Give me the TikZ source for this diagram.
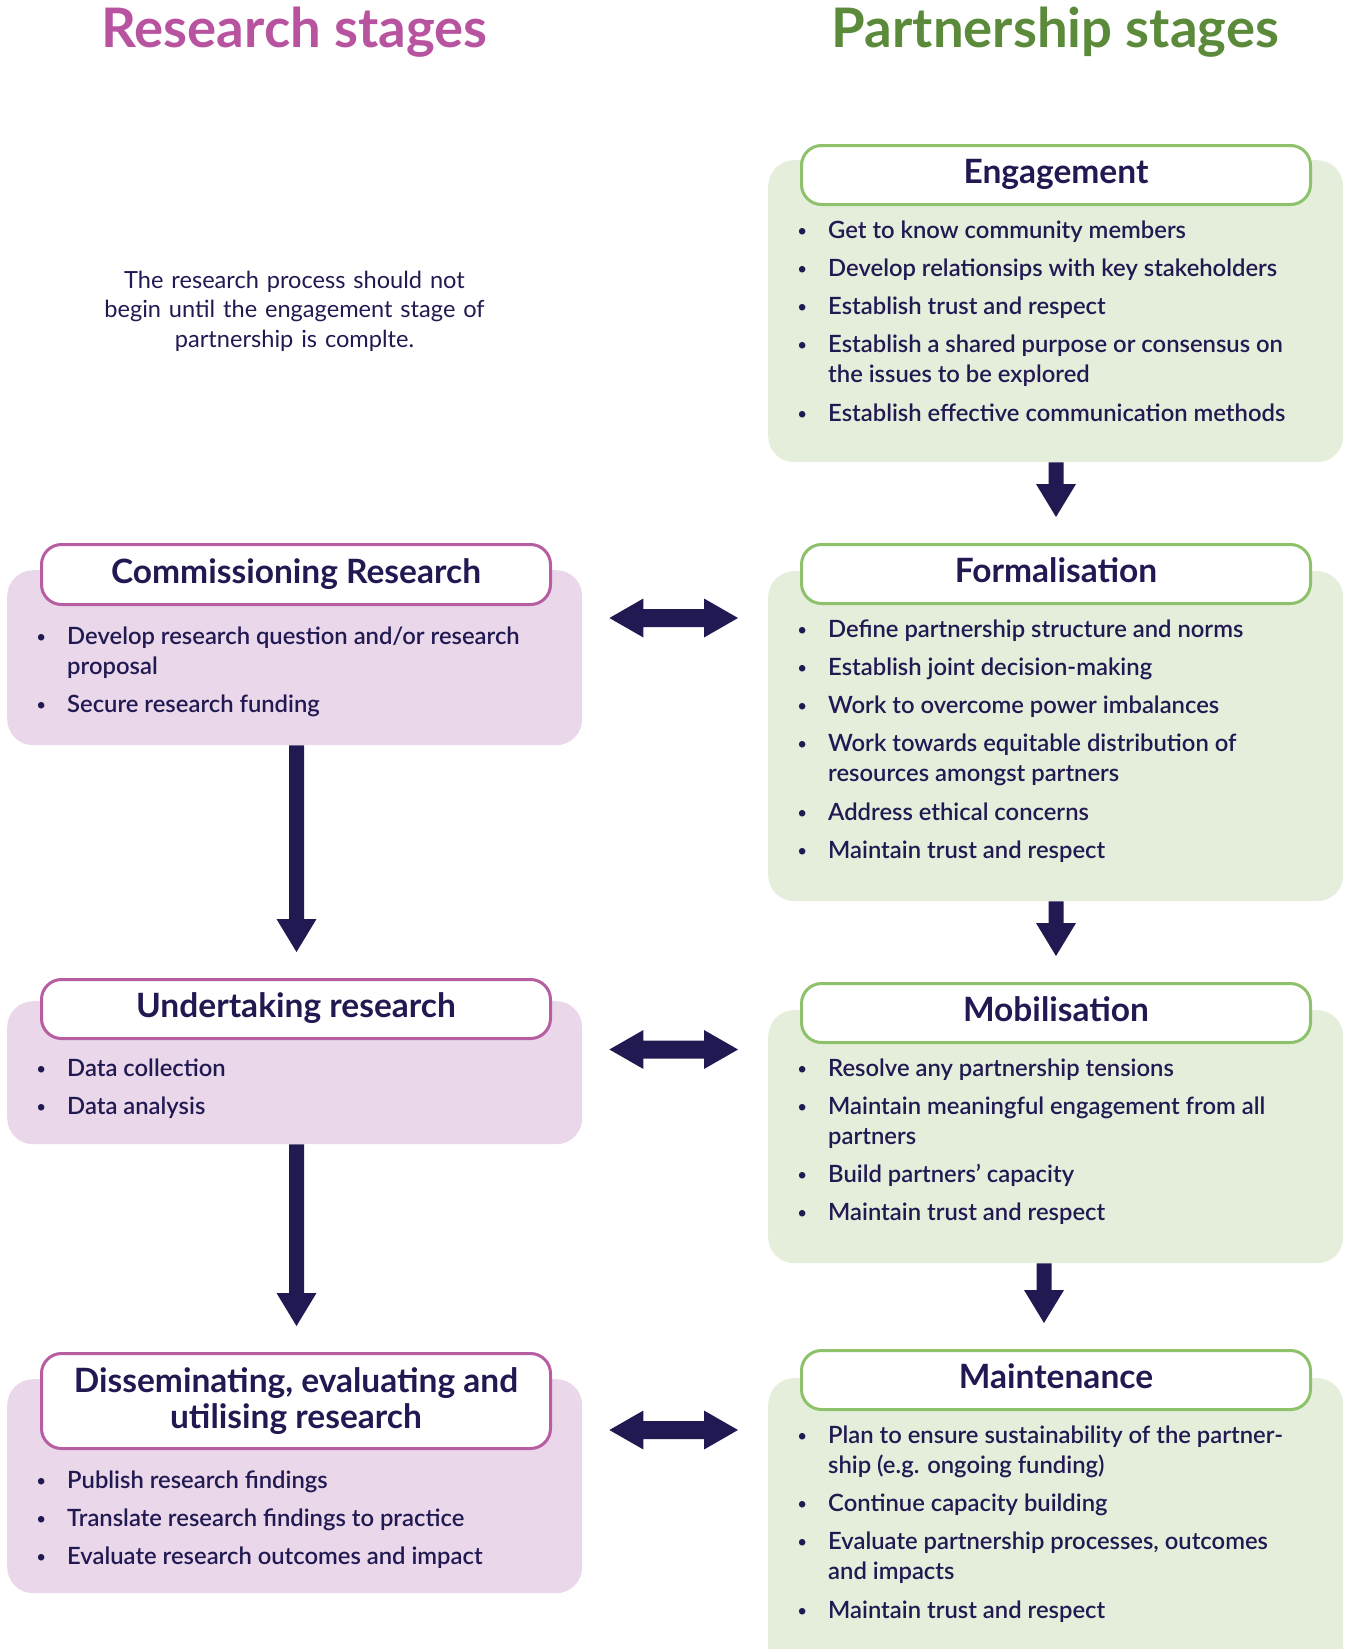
\documentclass[tikz,border=0pt]{standalone}
\usepackage{fontspec}
\usetikzlibrary{calc}
\setmainfont{Lato}
\IfFontExistsTF{Lato Semibold}{\newfontfamily\bodyfont{Lato Semibold}}{\newfontfamily\bodyfont{Lato}}
\definecolor{navy}{HTML}{211A52}
\definecolor{pinkB}{HTML}{B75DA2}
\definecolor{pinkF}{HTML}{EAD7EA}
\definecolor{pinkT}{HTML}{B8539F}
\definecolor{greenB}{HTML}{8DC26A}
\definecolor{greenF}{HTML}{E5EEDB}
\definecolor{greenT}{HTML}{5B8A3B}
\newcommand\bul{\par\hangindent=30pt\hangafter=0\noindent\llap{\makebox[52pt][c]{\raisebox{2pt}{\fontsize{16}{16}\selectfont\textbullet}}}}
\newcommand\bodytext[1]{\parbox[t]{520pt}{\setlength\parskip{8pt}#1\par}}
\newcommand\varrow[3]{%
  \fill[navy] let \p1=(#1.south), \p2=(#2.north) in
    (#3pt-7.5pt,\y1) -- (#3pt-7.5pt,\y2+59pt) -- (#3pt-20pt,\y2+59pt) -- (#3pt,\y2+26pt)
    -- (#3pt+20pt,\y2+59pt) -- (#3pt+7.5pt,\y2+59pt) -- (#3pt+7.5pt,\y1) -- cycle;}
\newcommand\harrow[3]{%
  \fill[navy] let \p1=(#1.east), \p2=(#2.west) in
    (\x1+27pt,-#3pt) -- (\x1+61pt,-#3pt+19.5pt) -- (\x1+61pt,-#3pt+9pt) -- (\x2-64pt,-#3pt+9pt)
    -- (\x2-64pt,-#3pt+19.5pt) -- (\x2-30pt,-#3pt) -- (\x2-64pt,-#3pt-19.5pt) -- (\x2-64pt,-#3pt-9pt)
    -- (\x1+61pt,-#3pt-9pt) -- (\x1+61pt,-#3pt-19.5pt) -- cycle;}
\begin{document}
\begin{tikzpicture}[x=1pt,y=-1pt,
  title/.style={anchor=base, inner sep=0, font=\bfseries\fontsize{54.5}{54.5}\selectfont},
  note/.style={anchor=base, inner sep=0, text width=460pt, align=center, text=navy, font=\fontsize{23.6}{29.5}\selectfont},
  fillbox/.style={rounded corners=26pt, minimum width=575pt, anchor=north west, inner sep=0},
  pinkbox/.style={fillbox, fill=pinkF},
  greenbox/.style={fillbox, fill=greenF},
  headbox/.style={line width=3pt, fill=white, rounded corners=20pt, minimum width=509pt, anchor=north west, inner sep=0, text=navy, align=center, font=\bfseries\fontsize{33.5}{36.6}\selectfont},
  onehead/.style={text height=24pt, text depth=7pt},
  phead/.style={headbox, draw=pinkB},
  ghead/.style={headbox, draw=greenB},
  body/.style={anchor=base west, inner sep=0, text=navy, font=\bodyfont\fontsize{23.8}{30.2}\selectfont}
]
\useasboundingbox (0,0) rectangle (1346,1649);

% titles
\node[title, text=pinkT] (rtitle) at (294.5,47) {Research stages};
\node[title, text=greenT] (ptitle) at (1055.5,47) {Partnership stages};

% note
\node[note] (note) at (294.5,288) {The research process should not\\begin until the engagement stage of\\partnership is complte.};

% fills
\node[greenbox, minimum height=302pt] (ef) at (768,160) {};
\node[greenbox, minimum height=330pt] (ff) at (768,571) {};
\node[greenbox, minimum height=253pt] (mf) at (768,1010) {};
\node[greenbox, minimum height=330pt] (tf) at (768,1378) {};
\node[pinkbox, minimum height=175pt] (cf) at (7,570) {};
\node[pinkbox, minimum height=143pt] (uf) at (7,1001) {};
\node[pinkbox, minimum height=214pt] (df) at (7,1379) {};

% headers
\node[ghead, onehead, minimum height=59pt] (eh) at (800,144) {Engagement};
\node[ghead, onehead, minimum height=59pt] (fh) at (800,543) {Formalisation};
\node[ghead, onehead, minimum height=59pt] (mh) at (800,982) {Mobilisation};
\node[ghead, onehead, minimum height=59pt] (th) at (800,1349) {Maintenance};
\node[phead, onehead, minimum height=60pt] (ch) at (40,543) {Commissioning Research};
\node[phead, onehead, minimum height=59pt] (uh) at (40,978) {Undertaking research};
\node[phead, minimum height=95pt] (dh) at (40,1352) {Disseminating, evaluating and\\utilising research};

% arrows
\varrow{ef}{fh}{1056}
\varrow{ff}{mh}{1056}
\varrow{mf}{th}{1044}
\varrow{cf}{uh}{296.5}
\varrow{uf}{dh}{296.5}
\harrow{cf}{ff}{618}
\harrow{uf}{mf}{1049.5}
\harrow{df}{tf}{1430}

% bodies
\node[body] (eb) at (798,238) {\bodytext{%
\bul Get to know community members
\bul Develop relationsips with key stakeholders
\bul Establish trust and respect
\bul Establish a shared purpose or consensus on\newline the issues to be explored
\bul Establish effective communication methods}};

\node[body] (fb) at (798,637) {\bodytext{%
\bul Define partnership structure and norms
\bul Establish joint decision-making
\bul Work to overcome power imbalances
\bul Work towards equitable distribution of\newline resources amongst partners
\bul Address ethical concerns
\bul Maintain trust and respect}};

\node[body] (mb) at (798,1076) {\bodytext{%
\bul Resolve any partnership tensions
\bul Maintain meaningful engagement from all\newline partners
\bul Build partners’ capacity
\bul Maintain trust and respect}};

\node[body] (tb) at (798,1443) {\bodytext{%
\bul Plan to ensure sustainability of the partner-\newline ship (e.g. ongoing funding)
\bul Continue capacity building
\bul Evaluate partnership processes, outcomes\newline and impacts
\bul Maintain trust and respect}};

\node[body] (cb) at (37,644) {\bodytext{%
\bul Develop research question and/or research\newline proposal
\bul Secure research funding}};

\node[body] (ub) at (37,1076) {\bodytext{%
\bul Data collection
\bul Data analysis}};

\node[body] (db) at (37,1488.5) {\bodytext{%
\bul Publish research findings
\bul Translate research findings to practice
\bul Evaluate research outcomes and impact}};
\end{tikzpicture}
\end{document}
